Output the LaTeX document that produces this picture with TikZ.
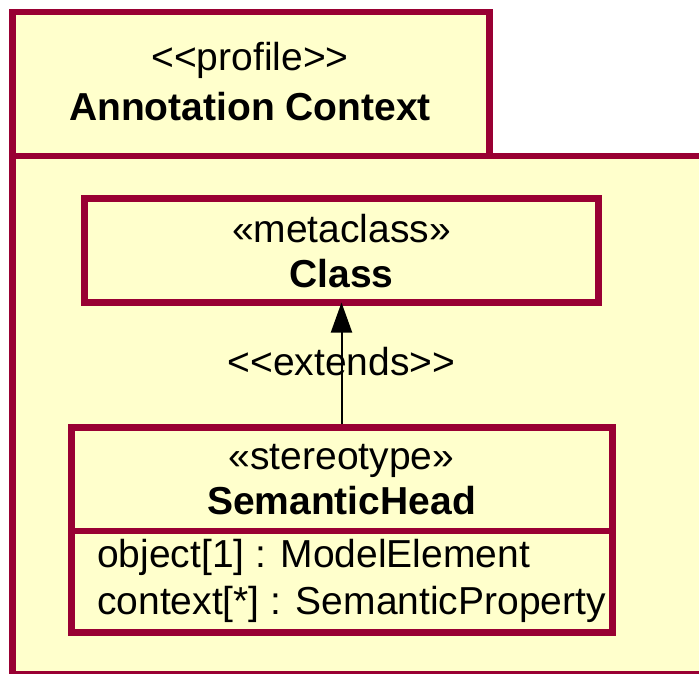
\documentclass[tikz,border=0pt]{standalone}
\usepackage{fontspec}
\setmainfont{Liberation Sans}
\usetikzlibrary{arrows.meta}
\definecolor{umlfill}{RGB}{255,255,204}
\definecolor{umlline}{RGB}{153,0,51}
\begin{document}
\begin{tikzpicture}[x=1pt,y=-1pt,
  frame/.style={draw=umlline,fill=umlfill,line width=6.5pt},
  txt/.style={font=\fontsize{39}{47}\selectfont,inner sep=0pt,anchor=base},
  btxt/.style={txt,font=\fontsize{39}{47}\selectfont\bfseries},
  ltxt/.style={txt,anchor=base west}]
\useasboundingbox (0,0) rectangle (699,673);
\clip (0,0) rectangle (699,673);
% package
\path[frame] (12.5,12) rectangle (489.5,156);
\path[frame] (12.5,156) rectangle (730,674);
\node[txt] (pst) at (250,70) {<{}<profile>{}>};
\node[btxt] (pname) at (250,120) {Annotation Context};
% Class
\path[frame] (84.5,198.5) rectangle (598.5,302.5);
\node[txt] (cst) at (341.5,242) {«metaclass»};
\node[btxt] (cname) at (341.5,287) {Class};
\coordinate (ctop) at (341.5,302.5);
% SemanticHead
\path[frame] (71.5,427.5) rectangle (612.5,632.5);
\draw[umlline,line width=6.5pt] (71.5,531) -- (612.5,531);
\node[txt] (sst) at (341.5,469) {«stereotype»};
\node[btxt] (sname) at (341.5,514) {SemanticHead};
\node[ltxt] (a1) at (97,567) {object[1] : ModelElement};
\node[ltxt] (a2) at (97,614) {context[*] : SemanticProperty};
\coordinate (stop) at (341.5,424);
% extends
\draw[line width=2pt,-{Triangle[length=30pt,width=21pt]}] (stop) -- (ctop);
\node[txt] (ext) at (341.5,375) {<{}<extends>{}>};
\end{tikzpicture}
\end{document}
